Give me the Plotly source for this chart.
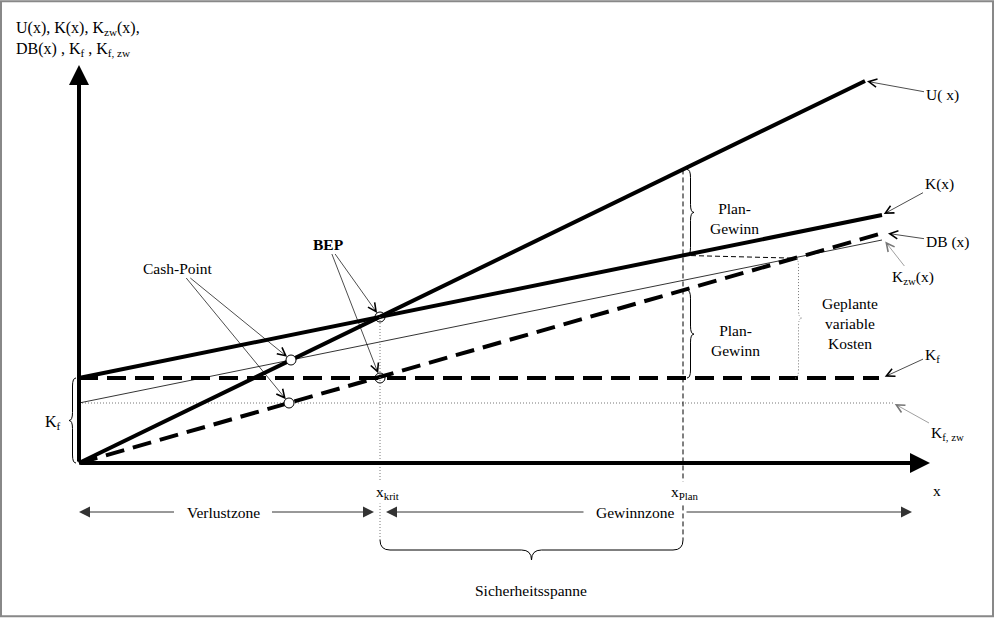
import numpy as np
import plotly.graph_objects as go

# ---------------- data ----------------
x_U = [0, 78.6];    U = [0, 38.2]          # Umsatz U(x)
x_K = [0, 80.3];    K = [8.5, 24.8]        # Kosten K(x)
x_DB = [0, 80.4];   DB = [0, 23.0]         # Deckungsbeitrag DB(x)
x_Kzw = [0, 80.3];  Kzw = [6.0, 22.3]      # zahlungswirksame Kosten
x_Kf = [0, 80.0];   Kf = [8.5, 8.5]        # Fixkosten
x_Kfzw = [0, 81.4]; Kfzw = [6.0, 6.0]      # zahlungswirksame Fixkosten
x_krit = 30.1
x_plan = 60.4
x_vk = 71.6
cash_x = [21.2, 21.0]; cash_y = [10.3, 6.0]
bep_x = [30.1, 30.1];  bep_y = [14.6, 8.5]
x_axis_end = 85.1
y_axis_end = 39.8

FONT = "Liberation Serif"
FS = 15.5

def at(xs, ys, x):
    return float(np.interp(x, xs, ys))

fig = go.Figure()

# thin lines first
fig.add_trace(go.Scatter(x=x_Kfzw, y=Kfzw, mode="lines",
                         line=dict(color="#777", width=1, dash="1px,2px")))
fig.add_trace(go.Scatter(x=x_Kzw, y=Kzw, mode="lines",
                         line=dict(color="black", width=0.8)))
# thick lines
fig.add_trace(go.Scatter(x=x_Kf, y=Kf, mode="lines",
                         line=dict(color="black", width=4, dash="19px,9px")))
fig.add_trace(go.Scatter(x=x_DB, y=DB, mode="lines",
                         line=dict(color="black", width=4, dash="19px,9px")))
fig.add_trace(go.Scatter(x=x_K, y=K, mode="lines",
                         line=dict(color="black", width=4)))
fig.add_trace(go.Scatter(x=x_U, y=U, mode="lines",
                         line=dict(color="black", width=4)))
# points
fig.add_trace(go.Scatter(x=cash_x, y=cash_y, mode="markers",
                         marker=dict(symbol="circle", size=10, color="white",
                                     line=dict(color="black", width=1))))
fig.add_trace(go.Scatter(x=bep_x, y=bep_y, mode="markers",
                         marker=dict(symbol="circle-open", size=10, color="black",
                                     line=dict(width=1))))

# ---------------- shapes ----------------
shapes = []
u_plan = at(x_U, U, x_plan)
k_plan = at(x_K, K, x_plan)
db_plan = at(x_DB, DB, x_plan)
db_vk = at(x_DB, DB, x_vk)
kf = Kf[0]
low = -7.7

# vertical helper lines
shapes.append(dict(type="line", x0=x_krit, x1=x_krit, y0=bep_y[0], y1=low,
                   line=dict(color="#777", width=1, dash="1px,2px")))
shapes.append(dict(type="line", x0=x_plan, x1=x_plan, y0=u_plan, y1=low,
                   line=dict(color="black", width=1, dash="5px,3px")))
shapes.append(dict(type="line", x0=x_plan, x1=x_vk, y0=k_plan, y1=db_vk,
                   line=dict(color="black", width=1, dash="5px,3px")))


def vbrace(x, y0, y1, d, w=0.35, r=0.8):
    ym = (y0 + y1) / 2
    xb = x + d * w
    xt = x + 2 * d * w
    return (f"M{x},{y0} Q{xb},{y0} {xb},{y0 + r} L{xb},{ym - r} "
            f"Q{xb},{ym} {xt},{ym} Q{xb},{ym} {xb},{ym + r} "
            f"L{xb},{y1 - r} Q{xb},{y1} {x},{y1}")


def hbrace(x0, x1, y, d, h=1.0, r=1.0):
    xm = (x0 + x1) / 2
    yb = y + d * h
    yt = y + 2 * d * h
    return (f"M{x0},{y} Q{x0},{yb} {x0 + r},{yb} L{xm - r},{yb} "
            f"Q{xm},{yb} {xm},{yt} Q{xm},{yb} {xm + r},{yb} "
            f"L{x1 - r},{yb} Q{x1},{yb} {x1},{y}")

shapes.append(dict(type="path", path=vbrace(x_plan + 0.4, k_plan, u_plan, 1),
                   line=dict(color="black", width=1)))
shapes.append(dict(type="path", path=vbrace(x_plan + 0.4, kf, db_plan, 1),
                   line=dict(color="black", width=1)))
shapes.append(dict(type="path", path=vbrace(x_vk, kf, db_vk, 1),
                   line=dict(color="#777", width=1, dash="1px,2px")))
shapes.append(dict(type="path", path=vbrace(-0.3, 0, kf, -1),
                   line=dict(color="black", width=1)))
shapes.append(dict(type="path", path=hbrace(x_krit, x_plan, low, -1),
                   line=dict(color="black", width=1)))
# frame
shapes.append(dict(type="rect", xref="paper", yref="paper",
                   x0=0.001, x1=0.998, y0=0.003, y1=0.998,
                   line=dict(color="#888", width=2)))

# ---------------- annotations ----------------
ann = []
base = dict(xref="x", yref="y", axref="x", ayref="y",
            font=dict(family=FONT, size=FS, color="black"))

# axes with arrowheads
ann.append(dict(base, x=0, y=y_axis_end, ax=0, ay=0, text="", showarrow=True,
                arrowhead=2, arrowwidth=4, arrowsize=1, arrowcolor="black"))
ann.append(dict(base, x=x_axis_end, y=0, ax=0, ay=0, text="", showarrow=True,
                arrowhead=2, arrowwidth=4, arrowsize=1, arrowcolor="black"))


def lab(text, tx, ty, x, y, color="black", standoff=2, visible=True):
    ann.append(dict(base, text=text, x=x, y=y, ax=tx, ay=ty, showarrow=True,
                    arrowhead=5, arrowwidth=0.7, arrowsize=2.3,
                    arrowcolor=color, standoff=standoff,
                    font=dict(family=FONT, size=FS,
                              color="black" if visible else "rgba(0,0,0,0)")))

lab("U( x)", 86.3, 36.8, x_U[1], U[1])
lab("K(x)", 86.0, 27.9, x_K[1], K[1])
lab("DB (x)", 86.8, 22.1, x_DB[1] + 0.2, DB[1], standoff=3)
lab("K<sub>zw</sub>(x)", 83.4, 18.6, x_Kzw[1] + 0.2, Kzw[1], color="#777")
lab("K<sub>f</sub>", 85.3, 10.8, x_Kf[1] + 0.3, Kf[1], standoff=3)
lab("K<sub>f, zw</sub>", 86.8, 3.0, x_Kfzw[1], Kfzw[1], color="#777")

# Cash-Point and BEP
for i in range(2):
    lab("Cash-Point", 9.9, 19.5, cash_x[i], cash_y[i], standoff=5,
        visible=(i == 0))
for i in range(2):
    lab("<b>BEP</b>", 24.9, 21.9, bep_x[i], bep_y[i], standoff=5,
        visible=(i == 0))

# zone arrows (text drawn once, second copy transparent)
def zone(text, cx, y, x_end, visible=True):
    ann.append(dict(base, text=text, x=x_end, y=y, ax=cx, ay=y, showarrow=True,
                    arrowhead=2, arrowwidth=1, arrowsize=2.2, arrowcolor="#333",
                    borderpad=12,
                    font=dict(family=FONT, size=FS,
                              color="black" if visible else "rgba(0,0,0,0)")))

zone("Verlustzone", 14.4, -4.9, 0)
zone("Verlustzone", 14.4, -4.9, x_krit - 0.6, visible=False)
zone("Gewinnzone", 55.6, -4.9, x_krit + 0.6)
zone("Gewinnzone", 55.6, -4.9, x_axis_end - 1.8, visible=False)


def txt(text, x, y, xanchor="center", size=FS, align="center", bg=None):
    d = dict(base, text=text, x=x, y=y, showarrow=False,
             xanchor=xanchor, yanchor="middle", align=align,
             font=dict(family=FONT, size=size, color="black"))
    if bg:
        d["bgcolor"] = bg
        d["borderpad"] = 1
    ann.append(d)

txt("U(x), K(x), K<sub>zw</sub>(x),<br>DB(x) , K<sub>f</sub> , K<sub>f, zw</sub>",
    -6.5, 42.4, xanchor="left", size=16, align="left")
txt("K<sub>f</sub>", -2.6, 4.1, size=16)
txt("Plan-<br>Gewinn", 65.5, 24.5)
txt("Plan-<br>Gewinn", 65.6, 12.3)
txt("Geplante<br>variable<br>Kosten", 77.1, 14.0)
txt("x<sub>krit</sub>", x_krit - 0.6, -2.9, xanchor="left", bg="white")
txt("x<sub>Plan</sub>", x_plan - 1.4, -2.9, xanchor="left", bg="white")
txt("x", 85.8, -2.7)
txt("Sicherheitsspanne", 45.2, -12.7)

fig.update_layout(
    width=995, height=618, margin=dict(l=0, r=0, t=0, b=0),
    autosize=False, showlegend=False,
    plot_bgcolor="white", paper_bgcolor="white",
    xaxis=dict(range=[-7.9, 91.6], visible=False, fixedrange=True),
    yaxis=dict(range=[-15.5, 46.3], visible=False, fixedrange=True),
    shapes=shapes, annotations=ann,
)

fig.write_html("out.html")
